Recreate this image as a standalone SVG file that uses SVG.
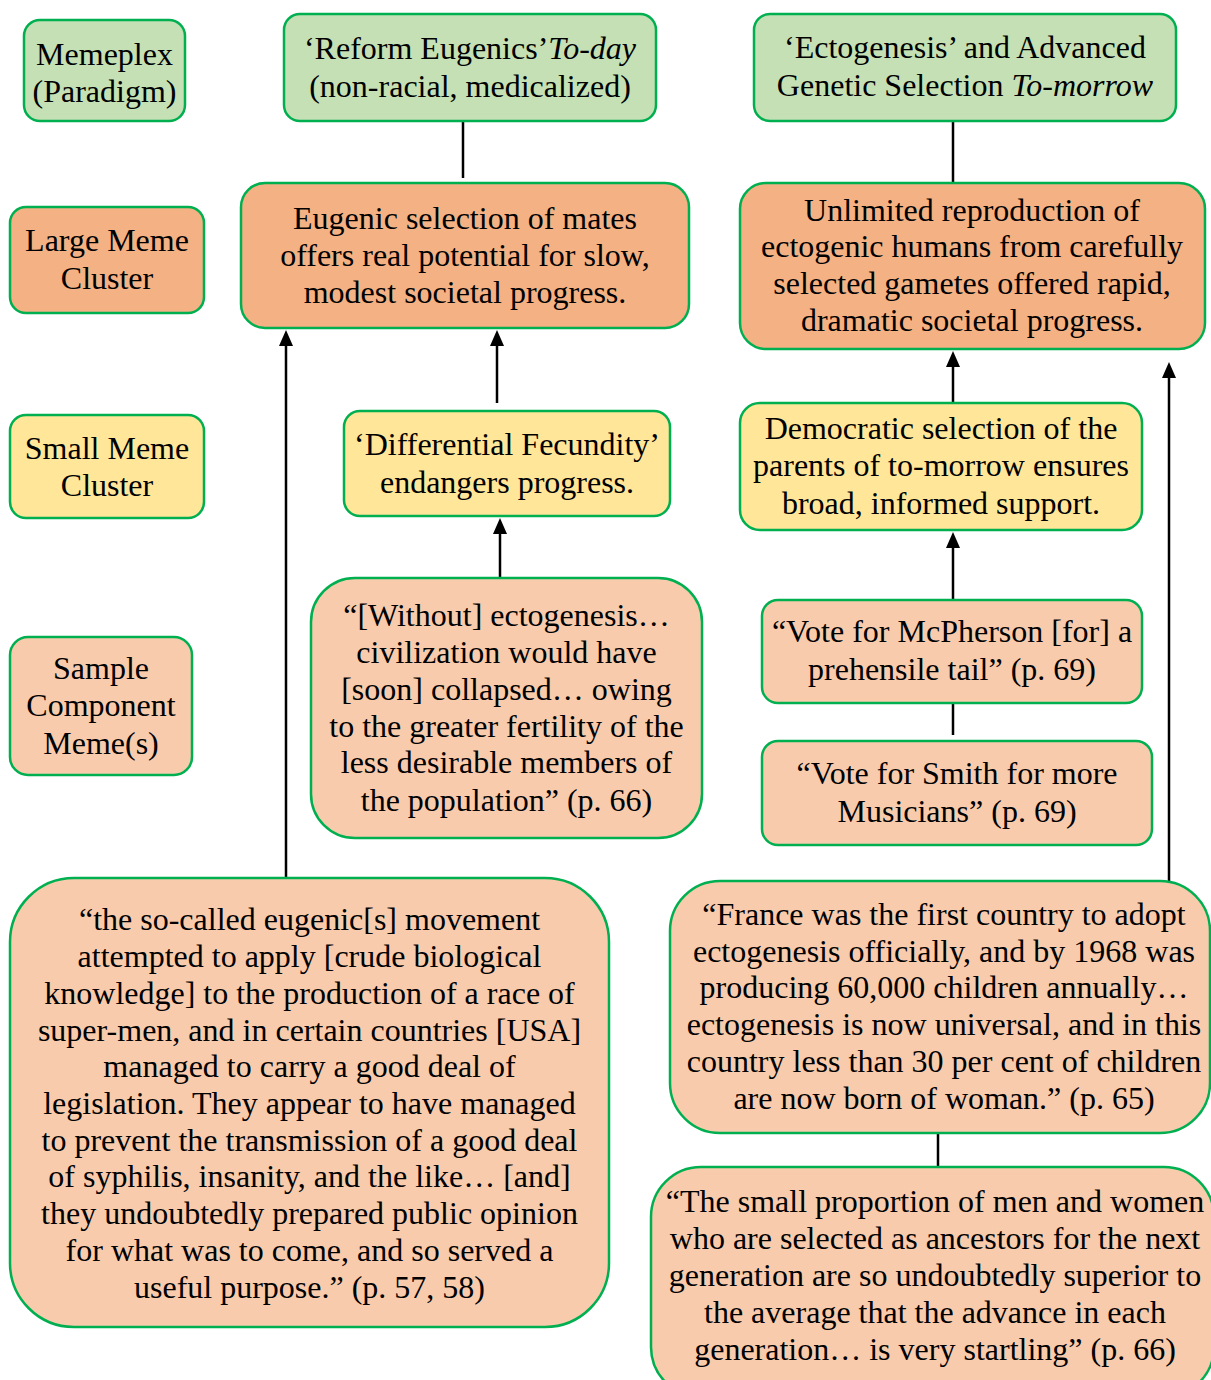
<svg xmlns="http://www.w3.org/2000/svg" width="1211" height="1380" viewBox="0 0 1211 1380">
<style>
.n{stroke:#00B050;stroke-width:2.5}
.g{fill:#C5E0B4}.o{fill:#F4B183}.y{fill:#FFE699}.p{fill:#F8CBAD}
text{font-family:"Liberation Serif","Times New Roman",serif;font-size:32px;fill:#000;text-anchor:middle}
.c line{stroke:#000;stroke-width:2.5}
</style>
<rect width="1211" height="1380" fill="#fff"/>
<g class="c" id="connectors">
<line x1="463" y1="121" x2="463" y2="178"/>
<line x1="953" y1="121" x2="953" y2="183"/>
<line x1="286" y1="878" x2="286" y2="344"/>
<path d="M279,346 L286,330 L293,346 Z"/>
<line x1="497" y1="403" x2="497" y2="344"/>
<path d="M490,346 L497,330 L504,346 Z"/>
<line x1="500" y1="578" x2="500" y2="532"/>
<path d="M493,534 L500,518 L507,534 Z"/>
<line x1="953" y1="403" x2="953" y2="365"/>
<path d="M946,367 L953,351 L960,367 Z"/>
<line x1="953" y1="600" x2="953" y2="546"/>
<path d="M946,548 L953,532 L960,548 Z"/>
<line x1="953" y1="703" x2="953" y2="735"/>
<line x1="1169" y1="881" x2="1169" y2="376"/>
<path d="M1162,378 L1169,362 L1176,378 Z"/>
<line x1="938" y1="1133" x2="938" y2="1167"/>
</g>
<g id="legend-memeplex"><rect class="n g" x="24" y="20" width="161" height="101" rx="16"/><text x="104.5" y="65">Memeplex</text><text x="104.5" y="102">(Paradigm)</text></g>
<g id="reform"><rect class="n g" x="284" y="14" width="372" height="107" rx="16"/><text x="470" y="59">‘Reform Eugenics’<tspan font-style="italic">To-day</tspan></text><text x="470" y="97">(non-racial, medicalized)</text></g>
<g id="ecto"><rect class="n g" x="754" y="14" width="422" height="107" rx="16"/><text x="965" y="58">‘Ectogenesis’ and Advanced</text><text x="965" y="96">Genetic Selection <tspan font-style="italic">To-morrow</tspan></text></g>
<g id="legend-large"><rect class="n o" x="10" y="207" width="194" height="106" rx="16"/><text x="107" y="251">Large Meme</text><text x="107" y="289">Cluster</text></g>
<g id="eugenic"><rect class="n o" x="241" y="183" width="448" height="145" rx="24"/><text x="465" y="229">Eugenic selection of mates</text><text x="465" y="266">offers real potential for slow,</text><text x="465" y="303">modest societal progress.</text></g>
<g id="unlimited"><rect class="n o" x="740" y="183" width="465" height="166" rx="26"/><text x="972" y="221">Unlimited reproduction of</text><text x="972" y="257">ectogenic humans from carefully</text><text x="972" y="294">selected gametes offered rapid,</text><text x="972" y="331">dramatic societal progress.</text></g>
<g id="legend-small"><rect class="n y" x="10" y="415" width="194" height="103" rx="16"/><text x="107" y="459">Small Meme</text><text x="107" y="496">Cluster</text></g>
<g id="fecundity"><rect class="n y" x="344" y="411" width="326" height="105" rx="16"/><text x="507" y="455">‘Differential Fecundity’</text><text x="507" y="493">endangers progress.</text></g>
<g id="democratic"><rect class="n y" x="740" y="403" width="402" height="127" rx="20"/><text x="941" y="439">Democratic selection of the</text><text x="941" y="476">parents of to-morrow ensures</text><text x="941" y="514">broad, informed support.</text></g>
<g id="legend-sample"><rect class="n p" x="10" y="637" width="182" height="138" rx="18"/><text x="101" y="679">Sample</text><text x="101" y="716">Component</text><text x="101" y="754">Meme(s)</text></g>
<g id="without"><rect class="n p" x="311" y="578" width="391" height="260" rx="44"/><text x="506.5" y="626">“[Without] ectogenesis…</text><text x="506.5" y="663">civilization would have</text><text x="506.5" y="700">[soon] collapsed… owing</text><text x="506.5" y="737">to the greater fertility of the</text><text x="506.5" y="773">less desirable members of</text><text x="506.5" y="811">the population” (p. 66)</text></g>
<g id="mcpherson"><rect class="n p" x="762" y="600" width="380" height="103" rx="16"/><text x="952" y="642">“Vote for McPherson [for] a</text><text x="952" y="680">prehensile tail” (p. 69)</text></g>
<g id="smith"><rect class="n p" x="762" y="741" width="390" height="104" rx="16"/><text x="957" y="784">“Vote for Smith for more</text><text x="957" y="822">Musicians” (p. 69)</text></g>
<g id="socalled"><rect class="n p" x="10" y="878" width="599" height="449" rx="64"/><text x="309.5" y="930">“the so-called eugenic[s] movement</text><text x="309.5" y="967">attempted to apply [crude biological</text><text x="309.5" y="1004">knowledge] to the production of a race of</text><text x="309.5" y="1041">super-men, and in certain countries [USA]</text><text x="309.5" y="1077">managed to carry a good deal of</text><text x="309.5" y="1114">legislation. They appear to have managed</text><text x="309.5" y="1151">to prevent the transmission of a good deal</text><text x="309.5" y="1187">of syphilis, insanity, and the like… [and]</text><text x="309.5" y="1224">they undoubtedly prepared public opinion</text><text x="309.5" y="1261">for what was to come, and so served a</text><text x="309.5" y="1298">useful purpose.” (p. 57, 58)</text></g>
<g id="france"><rect class="n p" x="670" y="881" width="540" height="252" rx="50"/><text x="944" y="925">“France was the first country to adopt</text><text x="944" y="962">ectogenesis officially, and by 1968 was</text><text x="944" y="998">producing 60,000 children annually…</text><text x="944" y="1035">ectogenesis is now universal, and in this</text><text x="944" y="1072">country less than 30 per cent of children</text><text x="944" y="1109">are now born of woman.” (p. 65)</text></g>
<g id="proportion"><rect class="n p" x="651" y="1167" width="563" height="230" rx="50"/><text x="935" y="1212">“The small proportion of men and women</text><text x="935" y="1249">who are selected as ancestors for the next</text><text x="935" y="1286">generation are so undoubtedly superior to</text><text x="935" y="1323">the average that the advance in each</text><text x="935" y="1360">generation… is very startling” (p. 66)</text></g>
</svg>
